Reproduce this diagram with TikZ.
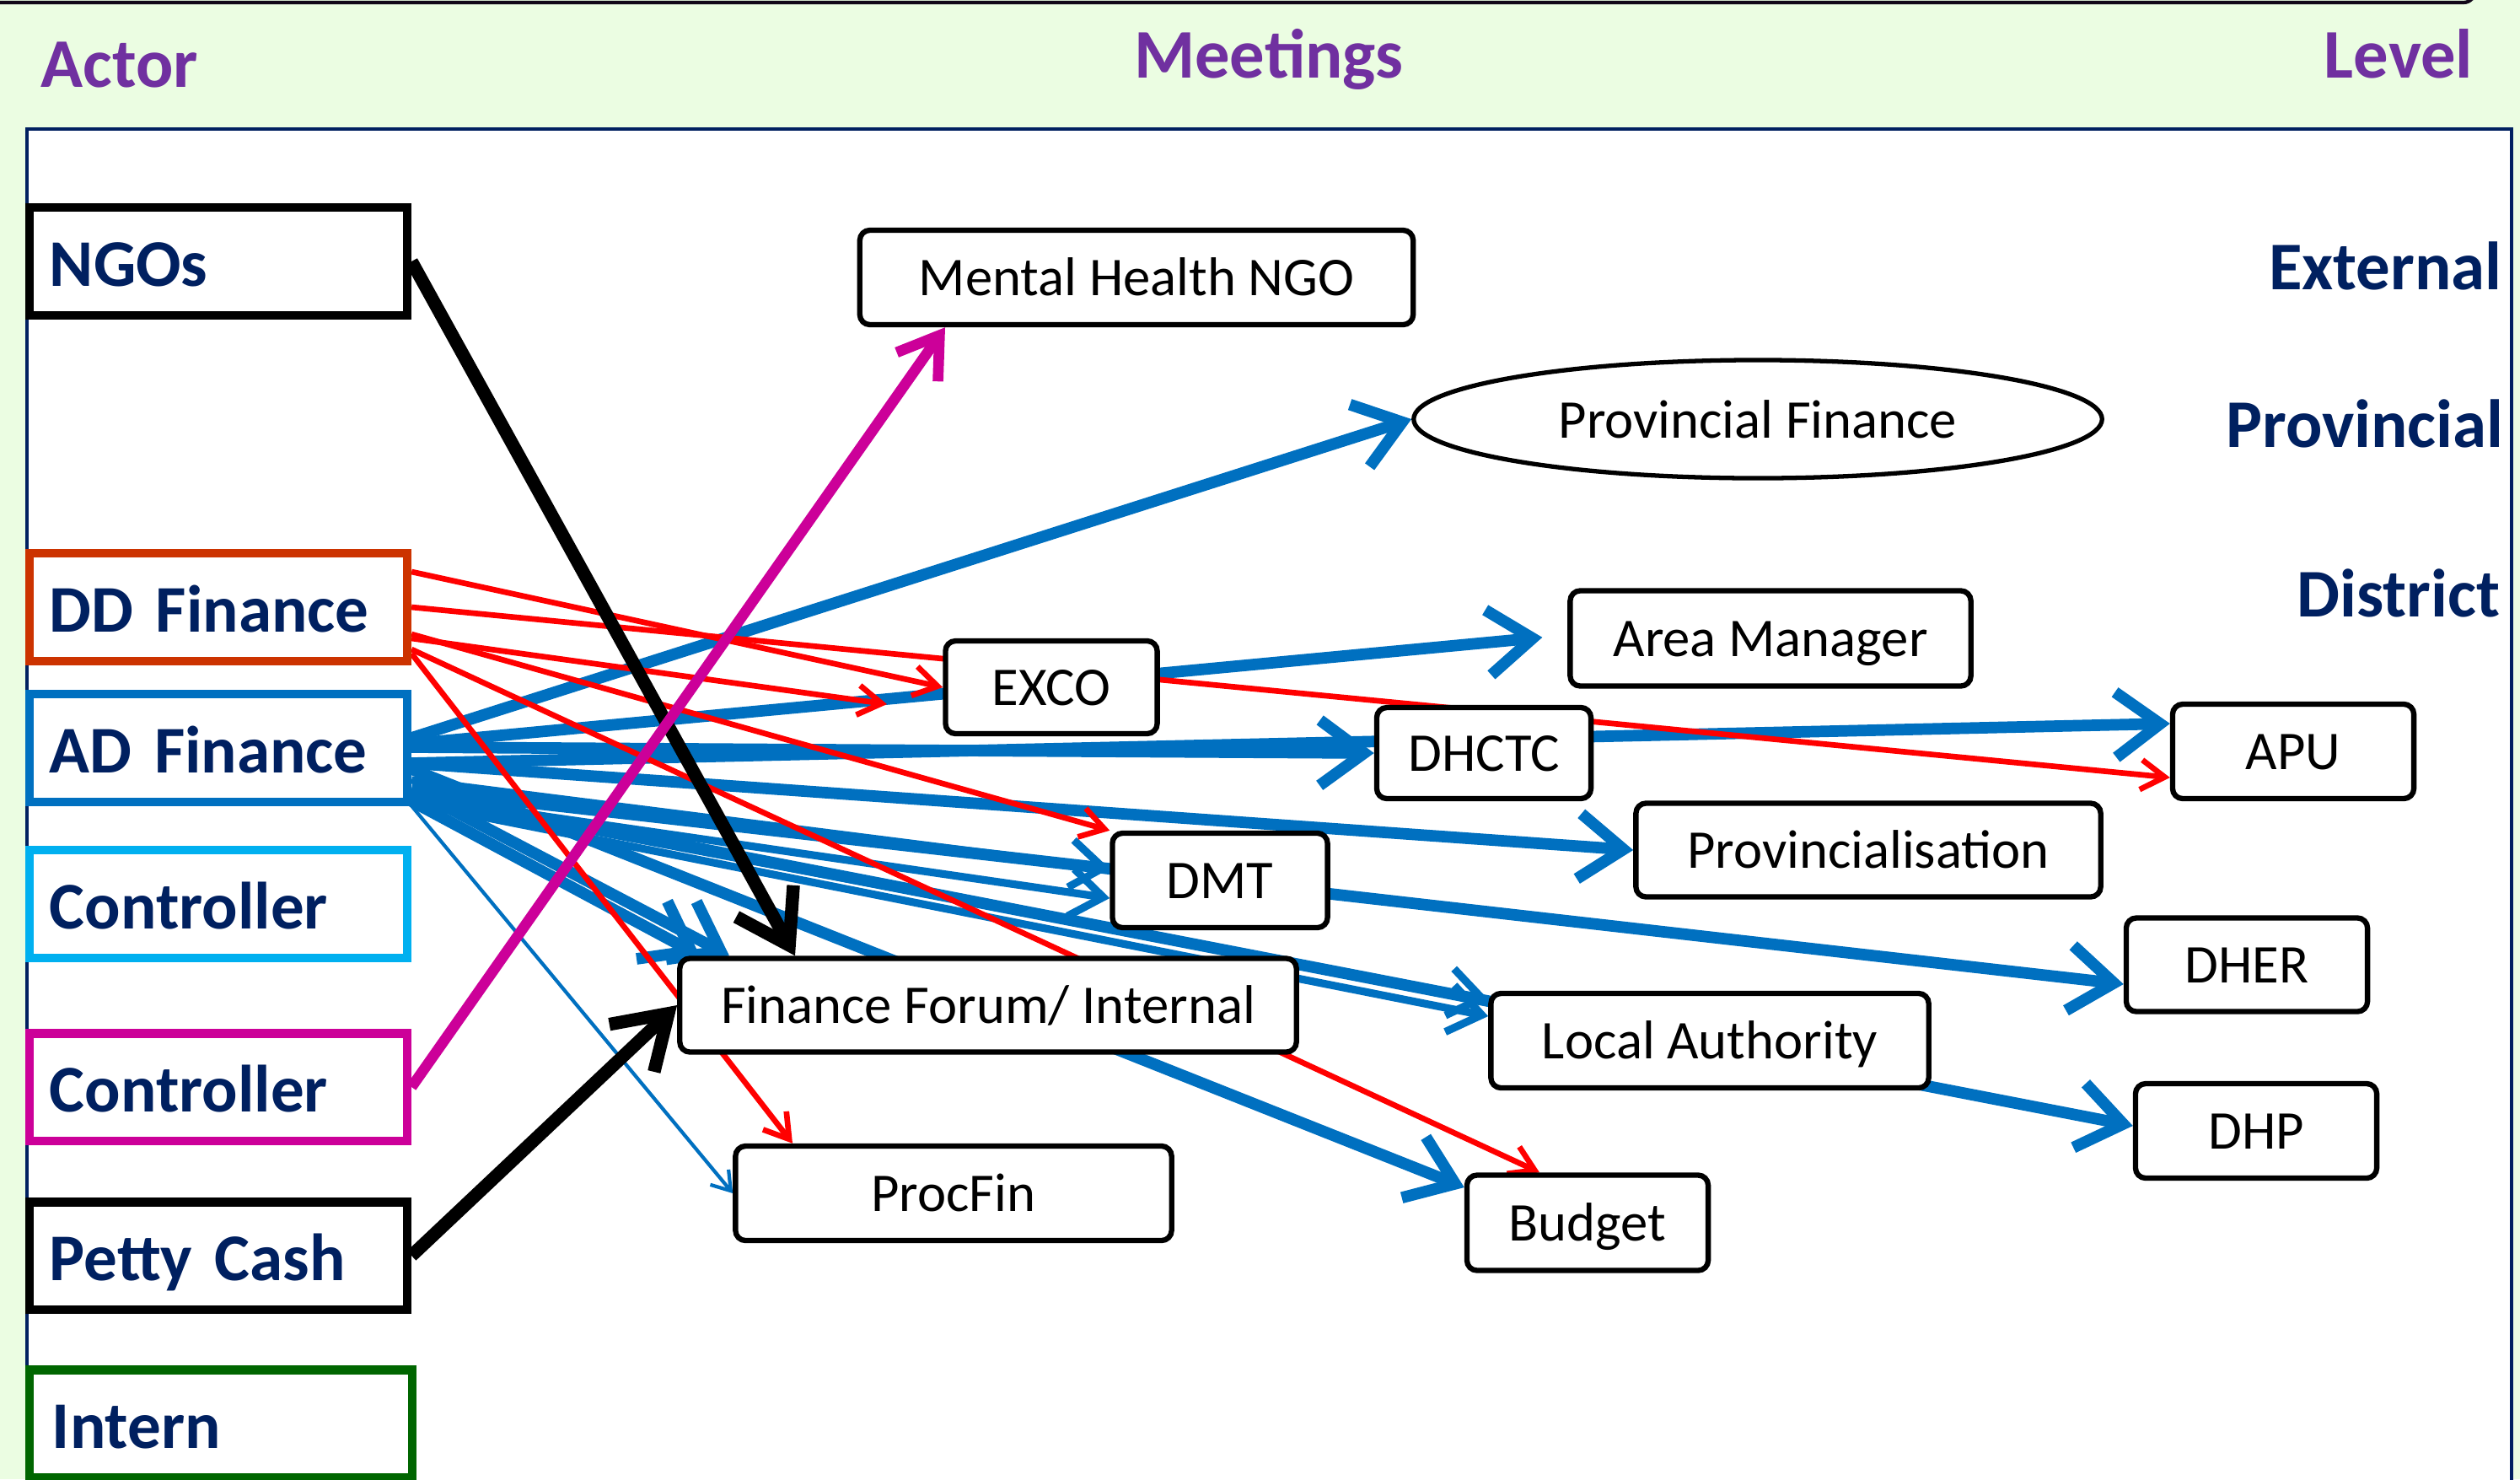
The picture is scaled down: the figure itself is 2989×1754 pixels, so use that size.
\documentclass[tikz,border=0pt]{standalone}
\usepackage{fontspec}
\setmainfont{Carlito}
\usetikzlibrary{arrows.meta,shapes.geometric}

\definecolor{bggreen}{RGB}{235,253,226}
\definecolor{navy}{RGB}{0,32,96}
\definecolor{hdrpurple}{RGB}{112,48,160}
\definecolor{ddorange}{RGB}{204,51,0}
\definecolor{adblue}{RGB}{0,112,192}
\definecolor{ctlcyan}{RGB}{0,176,240}
\definecolor{ctlmagenta}{RGB}{204,0,153}
\definecolor{interngreen}{RGB}{0,102,0}
\definecolor{linkred}{RGB}{255,0,0}

\pgfdeclarelayer{back}
\pgfdeclarelayer{links}
\pgfsetlayers{back,links,main}

\tikzset{
  actor/.style={draw, line width=2.85pt, fill=white, minimum width=4.48cm,
    minimum height=1.27cm, text width=4.0cm, inner xsep=0.24cm, inner ysep=0pt,
    align=left, text height=19pt, text depth=2.4pt,
    font=\fontsize{22.5}{27}\selectfont\bfseries, text=navy},
  meeting/.style={draw=black, line width=1.8pt, fill=white, rounded corners=0.12cm,
    font=\fontsize{18.4}{22}\selectfont, inner sep=0pt, text height=15pt, text depth=2.6pt},
  level/.style={font=\fontsize{23}{27}\selectfont\bfseries, text=navy, inner sep=0pt},
  header/.style={font=\fontsize{23.5}{28}\selectfont\bfseries, text=hdrpurple, inner sep=0pt},
  bluelink/.style={draw=adblue, line width=3.9pt, -{Straight Barb[length=15pt,width=22pt]}},
  bluemid/.style={draw=adblue, line width=2.6pt, -{Straight Barb[length=11pt,width=16pt]}},
  bluethin/.style={draw=adblue, line width=1.2pt, -{Straight Barb[length=6pt,width=8pt]}},
  redlink/.style={draw=linkred, line width=1.9pt, -{Straight Barb[length=8pt,width=10pt]}},
  blacklink/.style={draw=black, line width=4.4pt, -{Straight Barb[length=17pt,width=22pt]}},
  magentalink/.style={draw=ctlmagenta, line width=3.6pt, -{Straight Barb[length=13pt,width=17pt]}},
}

\begin{document}
\begin{tikzpicture}[x=0.01cm, y=-0.01cm]
\useasboundingbox (0,0) rectangle (2989,1754);

% slide background and white panel
\begin{pgfonlayer}{back}
  \fill[bggreen] (0,0) rectangle (2989,1754);
  \fill[white] (32,153) rectangle (2979,1770);
  \draw[navy, line width=1.2pt] (32,1770) -- (32,153) -- (2979,153) -- (2979,1770);
  \draw[line width=1.2pt, black!85!hdrpurple] (0,3) -- (2922,3) to[out=0,in=-90] (2936,-12);
\end{pgfonlayer}

% column headings
\node[header, anchor=base west] (hactor) at (48,103) {Actor};
\node[header, anchor=base] (hmeet) at (1505,92) {Meetings};
\node[header, anchor=base east] (hlevel) at (2934,92) {Level};

% level labels
\node[level, anchor=base east] (lext) at (2968,343) {External};
\node[level, anchor=base east] (lprov) at (2970,530) {Provincial};
\node[level, anchor=base east] (ldist) at (2966,731) {District};

% actors
\node[actor, draw=black] (ngo) at (259,310) {NGOs};
\node[actor, draw=ddorange] (dd) at (259,720) {DD Finance};
\node[actor, draw=adblue] (ad) at (259,887) {AD Finance};
\node[actor, draw=ctlcyan] (ctla) at (259,1072) {Controller};
\node[actor, draw=ctlmagenta] (ctlb) at (259,1289) {Controller};
\node[actor, draw=black] (petty) at (259,1489) {Petty Cash};
\node[actor, draw=interngreen, minimum width=4.53cm] (intern) at (262,1688) {Intern};

% meetings
\node[meeting, minimum width=6.56cm, minimum height=1.12cm] (mh) at (1348,329) {Mental Health NGO};
\node[draw=black, ellipse, line width=1.5pt, fill=white, minimum width=8.16cm, minimum height=1.40cm,
  font=\fontsize{18.4}{22}\selectfont, inner sep=0pt] (pf) at (2085,497) {Provincial Finance};
\node[meeting, minimum width=4.75cm, minimum height=1.13cm] (am) at (2100,757) {Area Manager};
\node[meeting, minimum width=2.51cm, minimum height=1.10cm] (exco) at (1247,815) {EXCO};
\node[meeting, minimum width=2.54cm, minimum height=1.08cm] (dhctc) at (1760,893) {DHCTC};
\node[meeting, minimum width=2.86cm, minimum height=1.12cm] (apu) at (2720,891) {APU};
\node[meeting, minimum width=5.51cm, minimum height=1.11cm] (pv) at (2216,1008) {Provincialisation};
\node[meeting, minimum width=2.55cm, minimum height=1.12cm] (dmt) at (1447,1044) {DMT};
\node[meeting, minimum width=2.86cm, minimum height=1.11cm] (dher) at (2665,1144) {DHER};
\node[meeting, minimum width=7.31cm, minimum height=1.11cm] (ff) at (1172,1192) {Finance Forum/ Internal};
\node[meeting, minimum width=5.19cm, minimum height=1.12cm] (la) at (2028,1234) {Local Authority};
\node[meeting, minimum width=2.86cm, minimum height=1.12cm] (dhp) at (2676,1341) {DHP};
\node[meeting, minimum width=5.17cm, minimum height=1.12cm] (procfin) at (1131,1415) {ProcFin};
\node[meeting, minimum width=2.86cm, minimum height=1.13cm] (budget) at (1883,1450) {Budget};

\coordinate (redfree) at (1052,835);

% connectors, drawn beneath the meeting boxes
\begin{pgfonlayer}{links}
  % AD Finance
  \draw[bluelink] (ad.east |- 0,875) -- (pf.west);
  \draw[bluelink, shorten >=0.3cm] (ad.east |- 0,882) -- (am.west |- 0,753);
  \draw[bluelink] (ad.east |- 0,886) -- (dhctc.west);
  \draw[bluelink] (ad.east |- 0,905) -- (apu.west |- 0,858);
  \draw[bluelink] (ad.east |- 0,905) -- (pv.west);
  \draw[bluelink] (ad.east |- 0,936) -- (dher.west |- 0,1167);
  \draw[bluemid] (ad.east |- 0,925) -- (dmt.west |- 0,1030);
  \draw[bluemid] (ad.east |- 0,945) -- (dmt.west |- 0,1065);
  \draw[bluemid] (ad.east |- 0,945) -- (la.west |- 0,1185);
  \draw[bluemid] (ad.east |- 0,952) -- (la.west |- 0,1205);
  \draw[bluelink] (ad.east |- 0,940) -- (dhp.west |- 0,1335);
  \draw[bluelink] (ad.east |- 0,912) -- (budget.west |- 0,1408);
  \draw[bluelink] (ad.east |- 0,935) -- (ff.north -| 865,0);
  \draw[bluelink] (ad.east |- 0,950) -- (ff.north -| 830,0);
  \draw[bluethin] (ad.south east) -- (procfin.west);
  % DD Finance
  \draw[redlink] (dd.east |- 0,678) -- (exco.west);
  \draw[redlink] (dd.east |- 0,757) -- (redfree);
  \draw[redlink] (dd.east) -- (apu.west |- 0,922);
  \draw[redlink] (dd.east |- 0,752) -- (dmt.north west);
  \draw[redlink] (dd.east |- 0,770) -- (budget.north -| 1826,0);
  \draw[redlink] (dd.east |- 0,775) -- (procfin.north -| 940,0);
  % NGOs, Petty Cash and Controller
  \draw[blacklink] (ngo.east) -- (ff.north -| 943,0);
  \draw[blacklink] (petty.east) -- (ff.west);
  \draw[magentalink] (ctlb.east) -- (mh.south -| 1121,0);
\end{pgfonlayer}
\end{tikzpicture}
\end{document}
